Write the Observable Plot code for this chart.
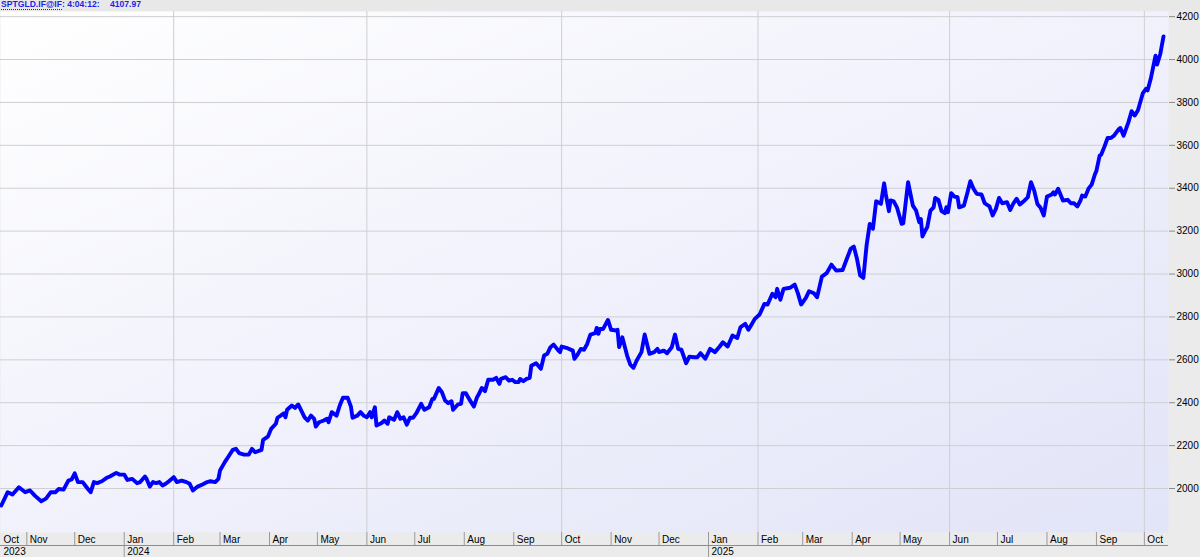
<!DOCTYPE html>
<html><head><meta charset="utf-8">
<script src="https://cdn.jsdelivr.net/npm/d3@7"></script>
<script src="https://cdn.jsdelivr.net/npm/@observablehq/plot@0.6"></script>
<style>
html,body{margin:0;padding:0;background:#ebebeb;width:1200px;height:557px;overflow:hidden;}
#title{height:11px;background:#e8e8e8;font:bold 8.6px "Liberation Sans",Arial,sans-serif;color:#1e1ee8;line-height:9px;position:relative;white-space:nowrap;}
#title span{position:absolute;top:0;}
#title .sym{border-bottom:1px dotted #1e1ee8;}
svg{display:block}
</style></head><body>
<div id="title"><span style="left:1px"><span class="sym" style="position:static">SPTGLD.IF@IF</span>: 4:04:12:</span><span style="left:110px">4107.97</span></div>
<div id="chart"></div>
<script>
const dates = [
"2023-10-16","2023-10-20","2023-10-23","2023-10-27","2023-10-31","2023-11-03","2023-11-06","2023-11-10","2023-11-13","2023-11-16",
"2023-11-19","2023-11-21","2023-11-24","2023-11-27","2023-11-29","2023-12-01","2023-12-03","2023-12-06","2023-12-09","2023-12-11",
"2023-12-13","2023-12-15","2023-12-18","2023-12-21","2023-12-23","2023-12-27","2023-12-29","2024-01-01","2024-01-03","2024-01-06",
"2024-01-09","2024-01-11","2024-01-14","2024-01-15","2024-01-17","2024-01-19","2024-01-21","2024-01-23","2024-01-25","2024-01-27",
"2024-01-29","2024-02-01","2024-02-03","2024-02-06","2024-02-09","2024-02-11","2024-02-13","2024-02-16","2024-02-19","2024-02-22",
"2024-02-24","2024-02-27","2024-02-29","2024-03-01","2024-03-04","2024-03-06","2024-03-09","2024-03-11","2024-03-13","2024-03-16",
"2024-03-19","2024-03-21","2024-03-23","2024-03-27","2024-03-28","2024-03-31","2024-04-02","2024-04-05","2024-04-06","2024-04-08",
"2024-04-10","2024-04-11","2024-04-12","2024-04-15","2024-04-17","2024-04-19","2024-04-23","2024-04-25","2024-04-27","2024-04-29",
"2024-04-30","2024-05-02","2024-05-05","2024-05-07","2024-05-08","2024-05-10","2024-05-13","2024-05-15","2024-05-17","2024-05-20",
"2024-05-22","2024-05-23","2024-05-26","2024-05-28","2024-05-30","2024-06-01","2024-06-03","2024-06-04","2024-06-06","2024-06-07",
"2024-06-10","2024-06-12","2024-06-14","2024-06-15","2024-06-18","2024-06-20","2024-06-22","2024-06-24","2024-06-26","2024-06-28",
"2024-06-30","2024-07-02","2024-07-05","2024-07-07","2024-07-10","2024-07-12","2024-07-13","2024-07-16","2024-07-18","2024-07-20",
"2024-07-22","2024-07-24","2024-07-25","2024-07-28","2024-07-30","2024-07-31","2024-08-02","2024-08-04","2024-08-07","2024-08-09",
"2024-08-10","2024-08-12","2024-08-14","2024-08-16","2024-08-19","2024-08-21","2024-08-23","2024-08-24","2024-08-27","2024-08-29",
"2024-08-31","2024-09-02","2024-09-04","2024-09-05","2024-09-07","2024-09-09","2024-09-11","2024-09-12","2024-09-15","2024-09-18",
"2024-09-20","2024-09-22","2024-09-24","2024-09-26","2024-09-29","2024-09-30","2024-10-01","2024-10-04","2024-10-08","2024-10-09",
"2024-10-11","2024-10-13","2024-10-15","2024-10-17","2024-10-19","2024-10-22","2024-10-23","2024-10-24","2024-10-25","2024-10-27",
"2024-10-30","2024-11-01","2024-11-04","2024-11-05","2024-11-06","2024-11-08","2024-11-11","2024-11-13","2024-11-15","2024-11-17",
"2024-11-20","2024-11-22","2024-11-25","2024-11-28","2024-11-30","2024-12-01","2024-12-04","2024-12-06","2024-12-09","2024-12-11",
"2024-12-13","2024-12-15","2024-12-18","2024-12-20","2024-12-23","2024-12-25","2024-12-27","2024-12-30","2025-01-02","2025-01-05",
"2025-01-08","2025-01-10","2025-01-13","2025-01-16","2025-01-19","2025-01-21","2025-01-24","2025-01-26","2025-01-28","2025-01-30",
"2025-02-02","2025-02-05","2025-02-07","2025-02-10","2025-02-12","2025-02-13","2025-02-15","2025-02-17","2025-02-21","2025-02-24",
"2025-02-26","2025-02-28","2025-03-03","2025-03-05","2025-03-08","2025-03-10","2025-03-13","2025-03-16","2025-03-19","2025-03-22",
"2025-03-26","2025-03-29","2025-03-31","2025-04-02","2025-04-04","2025-04-06","2025-04-08","2025-04-10","2025-04-12","2025-04-14",
"2025-04-16","2025-04-19","2025-04-21","2025-04-22","2025-04-24","2025-04-25","2025-04-27","2025-04-29","2025-05-02","2025-05-03",
"2025-05-06","2025-05-09","2025-05-11","2025-05-13","2025-05-14","2025-05-15","2025-05-17","2025-05-18","2025-05-20","2025-05-22",
"2025-05-23","2025-05-25","2025-05-27","2025-05-29","2025-05-30","2025-05-31","2025-06-02","2025-06-04","2025-06-06","2025-06-07",
"2025-06-10","2025-06-12","2025-06-14","2025-06-16","2025-06-18","2025-06-21","2025-06-23","2025-06-26","2025-06-28","2025-06-30",
"2025-07-02","2025-07-04","2025-07-07","2025-07-09","2025-07-11","2025-07-13","2025-07-15","2025-07-18","2025-07-20","2025-07-22",
"2025-07-24","2025-07-26","2025-07-28","2025-07-30","2025-08-01","2025-08-04","2025-08-05","2025-08-06","2025-08-08","2025-08-11",
"2025-08-14","2025-08-16","2025-08-18","2025-08-20","2025-08-22","2025-08-23","2025-08-25","2025-08-27","2025-08-29","2025-08-31",
"2025-09-01","2025-09-03","2025-09-04","2025-09-06","2025-09-08","2025-09-10","2025-09-12","2025-09-15","2025-09-16","2025-09-18",
"2025-09-21","2025-09-23","2025-09-25","2025-09-27","2025-09-30","2025-10-02","2025-10-03","2025-10-05","2025-10-08","2025-10-09",
"2025-10-11","2025-10-13"
];
const prices = [
1921,1983,1972,2006,1983,1991,1967,1941,1953,1983,
1983,1998,1995,2037,2042,2071,2030,2030,2000,1983,
2030,2025,2034,2050,2056,2073,2065,2065,2040,2045,
2025,2030,2056,2045,2009,2030,2025,2030,2014,2022,
2034,2053,2030,2037,2030,2022,1991,2009,2019,2030,
2034,2030,2045,2084,2123,2146,2180,2185,2165,2158,
2158,2185,2169,2180,2227,2242,2278,2302,2330,2340,
2351,2332,2367,2387,2376,2392,2332,2317,2340,2325,
2289,2309,2317,2325,2309,2356,2340,2387,2423,2423,
2382,2330,2340,2356,2340,2332,2356,2332,2379,2294,
2304,2317,2302,2332,2320,2356,2325,2332,2298,2330,
2330,2351,2395,2367,2379,2418,2418,2469,2449,2410,
2398,2407,2367,2392,2395,2444,2444,2418,2382,2426,
2438,2469,2454,2507,2507,2516,2488,2511,2519,2503,
2507,2496,2496,2511,2500,2511,2516,2573,2584,2558,
2620,2628,2659,2671,2643,2636,2662,2656,2643,2605,
2625,2651,2647,2674,2718,2724,2749,2721,2744,2744,
2786,2740,2737,2740,2659,2705,2620,2578,2563,2597,
2636,2718,2628,2636,2651,2636,2643,2631,2659,2718,
2651,2647,2584,2615,2612,2612,2631,2605,2651,2636,
2662,2682,2662,2713,2702,2752,2768,2740,2765,2791,
2811,2861,2858,2908,2892,2931,2880,2931,2936,2951,
2910,2858,2889,2920,2910,2892,2988,3004,3044,3016,
3019,3078,3117,3128,3071,2993,2982,3133,3234,3211,
3339,3327,3423,3374,3293,3343,3339,3311,3234,3237,
3428,3319,3296,3241,3257,3175,3206,3218,3296,3311,
3355,3346,3293,3284,3311,3288,3377,3361,3358,3311,
3319,3374,3433,3398,3374,3371,3330,3315,3273,3304,
3355,3330,3335,3299,3330,3351,3324,3343,3358,3428,
3389,3327,3309,3273,3361,3371,3381,3371,3398,3343,
3346,3330,3330,3315,3343,3366,3361,3398,3417,3464,
3482,3552,3557,3594,3634,3634,3645,3676,3681,3645,
3707,3759,3739,3764,3842,3863,3856,3910,4018,3977,
4026,4108
];
const yTicks = [2000,2200,2400,2600,2800,3000,3200,3400,3600,3800,4000,4200];
const xStart = "2023-10-15T12:00:00Z";
const xEnd = "2025-10-16T03:00:00Z";
const monthLabelDates = [xStart,"2023-11-01","2023-12-01","2024-01-01","2024-02-01","2024-03-01","2024-04-01","2024-05-01","2024-06-01","2024-07-01","2024-08-01","2024-09-01","2024-10-01","2024-11-01","2024-12-01","2025-01-01","2025-02-01","2025-03-01","2025-04-01","2025-05-01","2025-06-01","2025-07-01","2025-08-01","2025-09-01","2025-10-01"];
const yearLabelDates = [xStart,"2024-01-01","2025-01-01"];
const gridDates = ["2024-02-01","2024-06-01","2024-10-01","2025-02-01","2025-06-01","2025-10-01"];

const P = s => new Date(s);
const data = dates.map((d, i) => ({date: P(d), price: prices[i]}));
const font = "'Liberation Sans', Arial, sans-serif";

const chart = Plot.plot({
  width: 1200, height: 546,
  marginTop: 0, marginBottom: 25, marginLeft: 0, marginRight: 32,
  style: {background: "transparent", fontFamily: font, fontSize: "10px", color: "#000", overflow: "visible"},
  x: {type: "utc", domain: [P(xStart), P(xEnd)]},
  y: {domain: [1795, 4224]},
  marks: [
    Plot.frame({fill: "url(#bgGrad)", stroke: null}),
    Plot.gridY(yTicks, {stroke: "#cfcfd3", strokeOpacity: 1}),
    Plot.gridX(gridDates.map(P), {stroke: "#cfcfd3", strokeOpacity: 1}),
    Plot.axisY(yTicks, {anchor: "right", tickSize: 6, tickPadding: 2, tickFormat: d => String(d), stroke: "#8a8a8a", fill: "#000", fontSize: 10, label: null}),
    Plot.axisX(monthLabelDates.slice(1).map(P), {anchor: "bottom", tickSize: 13, tickFormat: () => "", stroke: "#9a9a9a", label: null}),
    Plot.axisX(monthLabelDates.map(P), {anchor: "bottom", tickSize: 0, tickPadding: 3, tickFormat: d3.utcFormat("%b"), textAnchor: "start", dx: 3, fill: "#000", fontSize: 10, label: null}),
    Plot.axisX(yearLabelDates.slice(1).map(P), {anchor: "bottom", tickSize: 12, dy: 13, tickFormat: () => "", stroke: "#9a9a9a", label: null}),
    Plot.axisX(yearLabelDates.map(P), {anchor: "bottom", tickSize: 0, tickPadding: 15, tickFormat: d3.utcFormat("%Y"), textAnchor: "start", dx: 3, fill: "#000", fontSize: 10, label: null}),
    Plot.lineY(data, {x: "date", y: "price", stroke: "#0000ff", strokeWidth: 3.9, strokeLinejoin: "round", strokeLinecap: "round"})
  ]
});

const svg = d3.select(chart);
const defs = svg.insert("defs", ":first-child");
const g = defs.append("linearGradient").attr("id", "bgGrad").attr("x1", 0).attr("y1", 0).attr("x2", 1).attr("y2", 1);
g.append("stop").attr("offset", "0%").attr("stop-color", "#ffffff");
g.append("stop").attr("offset", "100%").attr("stop-color", "#e2e4f8");
const xs = chart.scale("x"), ys = chart.scale("y");
const yb = ys.apply(1795) + 13.5;
svg.append("line").attr("x1", xs.apply(P(xStart))).attr("x2", xs.apply(P(xEnd))).attr("y1", yb).attr("y2", yb).attr("stroke", "#8c8c8c");
document.getElementById("chart").appendChild(chart);
</script>
</body></html>
